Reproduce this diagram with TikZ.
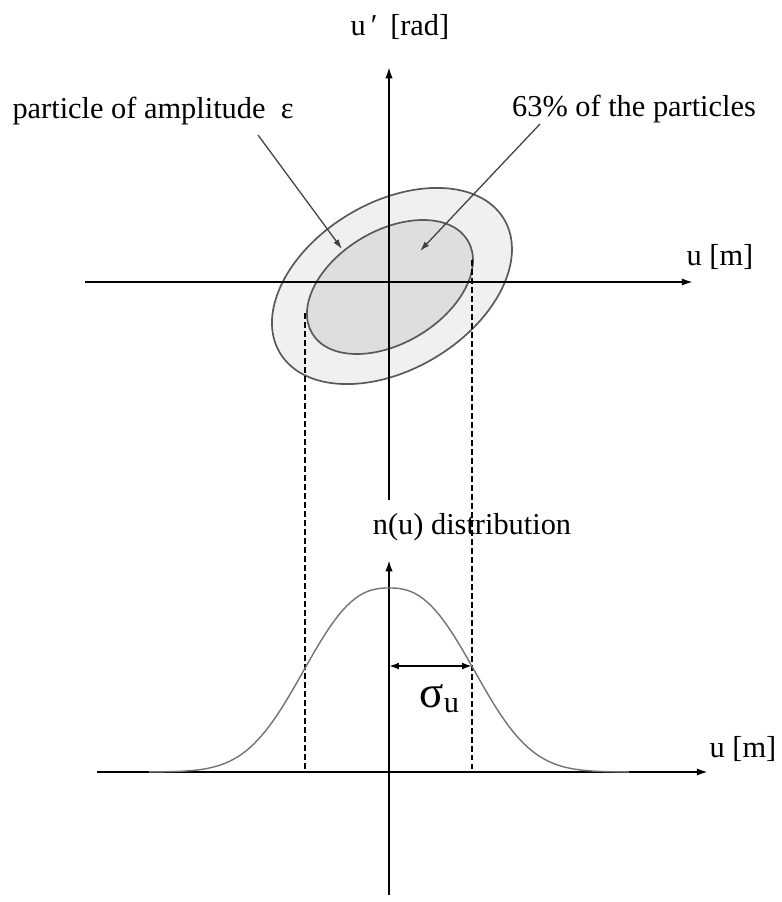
\documentclass[tikz,border=0pt]{standalone}
\usepackage{fontspec}
\setmainfont{Liberation Serif}
\usetikzlibrary{arrows.meta,positioning,calc}

\tikzset{
  axis/.style={line width=0.7pt, -{Latex[length=4pt,width=2.6pt]}},
  ellout/.style={draw=black!65, line width=0.6pt, fill=black!6},
  ellin/.style={draw=black!65, line width=0.6pt, fill=black!13},
  pointer/.style={draw=black!75, line width=0.45pt, -{Latex[length=3.5pt,width=2.2pt]}},
  proj/.style={line width=0.7pt, dash pattern=on 2pt off 1.2pt},
  gauss/.style={draw=black!55, line width=0.5pt},
  lbl/.style={inner sep=0pt, font=\fontsize{10.8}{13}\selectfont},
}

\begin{document}
\begin{tikzpicture}[x=0.125mm, y=-0.125mm]
    \useasboundingbox (0,0) rectangle (781,902);

    % phase space: the two ellipses
    \coordinate (co) at (392,286);
    \coordinate (ci) at (390,287);
    \draw[ellout, rotate around={30.8:(co)}] (co) ellipse [x radius=130.5, y radius=83.6];
    \draw[ellin, rotate around={30.8:(ci)}] (ci) ellipse [x radius=90.6, y radius=56.3];

    % phase space axes
    \coordinate (hl) at (85,282);
    \coordinate (hr) at (693,282);
    \coordinate (vb) at (389,500);
    \coordinate (vt) at (389,67);
    \draw[axis] (hl) -- (hr);
    \draw[axis] (vb) -- (vt);
    \node[lbl, anchor=base] (uprime) at (400,35) {u\,′\ \,[rad]};
    \node[lbl, anchor=base] (umtop) at (720,265) {u [m]};

    % labels and pointers
    \node[lbl, anchor=base] (amp) at (153,118) {particle of amplitude\ \ ε};
    \node[lbl, anchor=base] (frac) at (634,116) {63\% of the particles};
    \coordinate (ampstart) at (258,135);
    \coordinate (amptip) at (342,249);
    \coordinate (fracstart) at (540,124);
    \coordinate (fractip) at (420,251);
    \draw[pointer] (ampstart) -- (amptip);
    \draw[pointer] (fracstart) -- (fractip);

    % distribution axes
    \coordinate (bl) at (97,772);
    \coordinate (br) at (708,772);
    \coordinate (bb) at (389,895);
    \coordinate (bt) at (389,560);
    \draw[axis] (bl) -- (br);
    \draw[axis] (bb) -- (bt);
    \node[lbl, anchor=base] (nu) at (472,534) {n(u) distribution};
    \node[lbl, anchor=base] (umbot) at (743,757) {u [m]};

    % projection of the inner ellipse
    \coordinate (pl) at (305,313);
    \coordinate (pr) at (472,260);
    \draw[proj] (pl) -- (pl |- bl);
    \draw[proj] (pr) -- (pr |- bl);

    % distribution curve
    \draw[gauss] plot[domain=-240:240, samples=120]
        ({389+\x}, {772-184*exp(-pow((abs(\x)+0.01)/105,2.5))});

    % sigma
    \coordinate (sl) at (389,666);
    \coordinate (sr) at (pr |- sl);
    \draw[line width=0.6pt, {Latex[length=3.5pt,width=2.4pt]}-{Latex[length=3.5pt,width=2.4pt]}] (sl) -- (sr);
    \node[inner sep=0pt, anchor=base west] (sig) at (419,707)
        {{\fontsize{16}{18}\selectfont σ}\raisebox{-1.8pt}{\fontsize{10.8}{13}\selectfont u}};
\end{tikzpicture}
\end{document}
